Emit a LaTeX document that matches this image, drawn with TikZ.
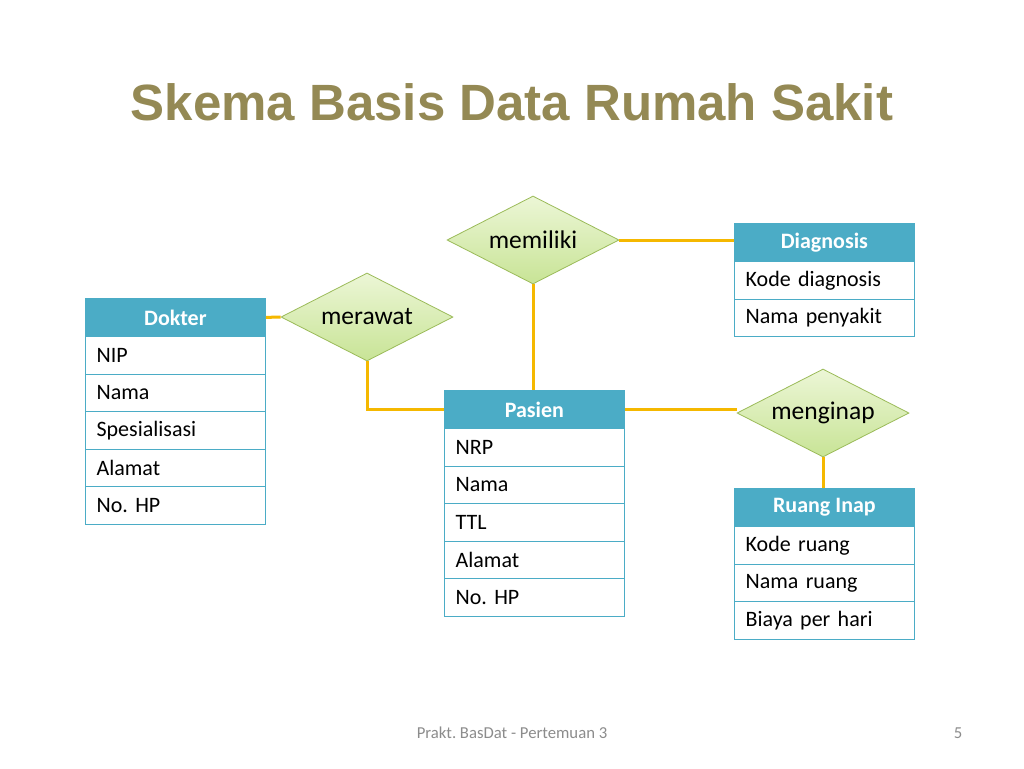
\documentclass[tikz,border=0pt]{standalone}
\usepackage{fontspec}
\setmainfont{Carlito}
\newfontfamily\titlefont{Liberation Sans}
\usepackage{xcolor}
\usepackage{tikz}
\usetikzlibrary{shapes.geometric}
\frenchspacing

\definecolor{tblue}{RGB}{75,172,198}
\definecolor{olive}{RGB}{148,137,84}
\definecolor{gold}{RGB}{245,184,0}
\definecolor{dgreen}{RGB}{155,187,89}
\definecolor{lgreenA}{RGB}{236,246,214}
\definecolor{lgreenB}{RGB}{200,228,150}
\definecolor{footgray}{RGB}{140,140,140}

\begin{document}
\begin{tikzpicture}[x=1pt, y=-1pt,
  hdr/.style={anchor=north west, fill=tblue, draw=tblue, line width=0.8pt, text=white,
    font=\fontsize{22}{26}\selectfont\bfseries, minimum width=180pt, minimum height=38pt, inner sep=0pt},
  fld/.style={anchor=north west, draw=tblue, line width=1.2pt, fill=white, text width=158pt,
    align=left, inner xsep=11pt, inner ysep=0pt, minimum height=37.5pt,
    font=\fontsize{22}{26}\selectfont},
  rel/.style={diamond, aspect=1.95, draw=dgreen, line width=0.8pt, top color=lgreenA, bottom color=lgreenB,
    minimum width=172pt, minimum height=88pt, inner sep=0pt, font=\fontsize{25.5}{30}\selectfont},
  link/.style={draw=gold, line width=3pt}]
\useasboundingbox (0,0) rectangle (1024,768);
\fill[white] (0,0) rectangle (1024,768);
% Title
\node[font=\titlefont\fontsize{51}{60}\selectfont\bfseries, text=olive, anchor=base] (title) at (512,120) {Skema Basis Data Rumah Sakit};
% Relationship centres
\coordinate (c-mer) at (367,317);
\coordinate (c-mem) at (533,240);
\coordinate (c-men) at (823,413);
% Dokter table
\node[hdr] (dok) at (85,298) {Dokter};
\node[fld] (dok1) at (85,336) {NIP};
\node[fld] (dok2) at (85,373.5) {Nama};
\node[fld] (dok3) at (85,411) {Spesialisasi};
\node[fld] (dok4) at (85,448.5) {Alamat};
\node[fld] (dok5) at (85,486) {No. HP};
% Pasien table
\node[hdr] (pas) at (444,390) {Pasien};
\node[fld] (pas1) at (444,428) {NRP};
\node[fld] (pas2) at (444,465.5) {Nama};
\node[fld] (pas3) at (444,503) {TTL};
\node[fld] (pas4) at (444,540.5) {Alamat};
\node[fld] (pas5) at (444,578) {No. HP};
% Diagnosis table
\node[hdr] (dia) at (734,223) {Diagnosis};
\node[fld] (dia1) at (734,261) {Kode diagnosis};
\node[fld] (dia2) at (734,298.5) {Nama penyakit};
% Ruang Inap table
\node[hdr] (rua) at (734,488) {Ruang Inap};
\node[fld] (rua1) at (734,526) {Kode ruang};
\node[fld] (rua2) at (734,563.5) {Nama ruang};
\node[fld] (rua3) at (734,601) {Biaya per hari};
% Relationships
\node[rel] (mer) at (c-mer) {merawat};
\node[rel] (mem) at (c-mem) {memiliki};
\node[rel] (men) at (c-men) {menginap};
% Connectors
\draw[link] (dok.east) -- (mer.west);
\draw[link] (mer.south) |- (pas.west);
\draw[link] (mem.south) -- (mem.south |- pas.north);
\draw[link] (mem.east) -- (mem.east -| dia.west);
\draw[link] (pas.east) -- (pas.east -| men.west);
\draw[link] (men.south) -- (men.south |- rua.north);
% Footer
\node[font=\fontsize{16.7}{20}\selectfont, text=footgray] (foot) at (512,733) {Prakt. BasDat - Pertemuan 3};
\node[font=\fontsize{16.7}{20}\selectfont, text=footgray] (page) at (958,733) {5};
\end{tikzpicture}
\end{document}
